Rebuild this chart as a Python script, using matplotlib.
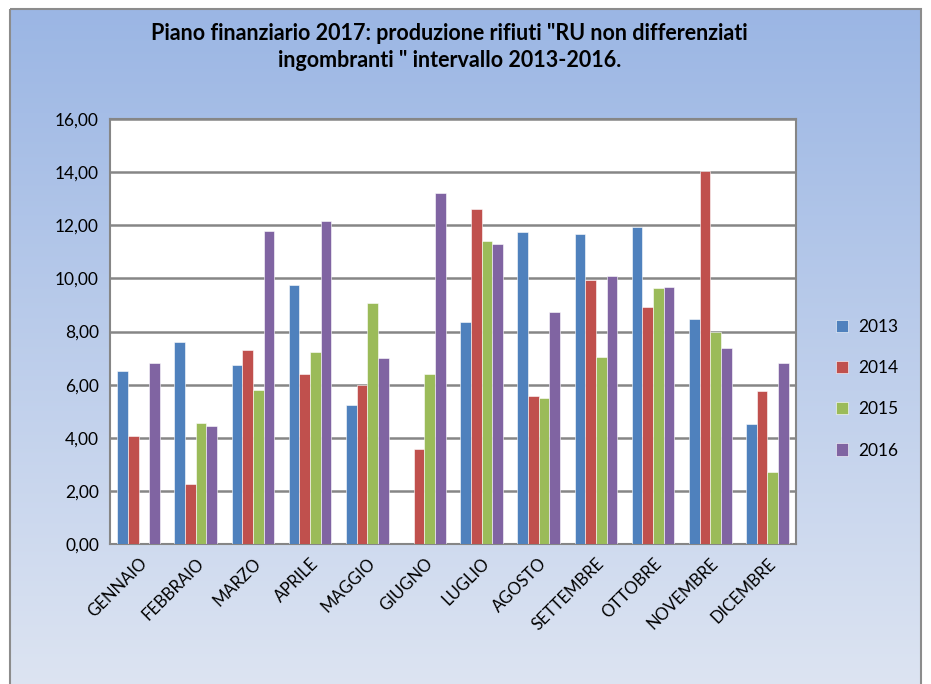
import numpy as np
import matplotlib.pyplot as plt
from matplotlib.patches import Rectangle

mesi = ['GENNAIO', 'FEBBRAIO', 'MARZO', 'APRILE', 'MAGGIO', 'GIUGNO',
        'LUGLIO', 'AGOSTO', 'SETTEMBRE', 'OTTOBRE', 'NOVEMBRE', 'DICEMBRE']
anni = ['2013', '2014', '2015', '2016']
v2013 = [6.52, 7.59, 6.74, 9.75, 5.22, 0.00, 8.36, 11.76, 11.66, 11.92, 8.46, 4.51]
v2014 = [4.07, 2.26, 7.30, 6.39, 5.97, 3.56, 12.63, 5.58, 9.94, 8.94, 14.04, 5.77]
v2015 = [0.00, 4.54, 5.80, 7.22, 9.06, 6.40, 11.42, 5.48, 7.03, 9.65, 7.97, 2.71]
v2016 = [6.80, 4.43, 11.77, 12.15, 6.99, 13.23, 11.30, 8.75, 10.08, 9.68, 7.39, 6.80]
colori = ['#4F81BD', '#C0504D', '#9BBB59', '#8064A2']

plt.rcParams['font.family'] = ['Lato', 'DejaVu Sans']

fig = plt.figure(figsize=(9.31, 6.84), dpi=100)

# sfondo sfumato del grafico
bg = fig.add_axes([0, 0, 1, 1], zorder=-10)
bg.set_xlim(0, 931)
bg.set_ylim(684, 0)
bg.axis('off')
top = np.array([155, 182, 228]) / 255
bot = np.array([222, 229, 242]) / 255
t = np.linspace(0, 1, 256)[:, None]
grad = (top * (1 - t) + bot * t)[:, None, :]
bg.imshow(grad, extent=[10, 921, 700, 9], aspect='auto')
bg.add_patch(Rectangle((10, 9), 911, 700, fill=False, edgecolor='#8C8C8C', lw=1.5))

ax = fig.add_axes([110 / 931, 1 - 544 / 684, 686 / 931, 425 / 684])
x = np.arange(len(mesi))
w = 0.187
serie = [v2013, v2014, v2015, v2016]
for i, (vals, anno, col) in enumerate(zip(serie, anni, colori)):
    ax.bar(x + (i - 1.5) * w, vals, width=w, color=col, label=anno,
           edgecolor='white', linewidth=0.4, zorder=3)

ax.set_xlim(-0.5, len(mesi) - 0.5)
ax.set_ylim(0, 16)
ax.set_yticks(np.arange(0, 17, 2))
ax.set_yticklabels([f'{v:.2f}'.replace('.', ',') for v in np.arange(0, 17, 2)], fontsize=12.5)
ax.set_xticks(x)
ax.set_xticklabels(mesi, rotation=45, ha='right', rotation_mode='anchor', fontsize=12)
ax.tick_params(axis='both', length=0, pad=8)
ax.grid(axis='y', color='#868686', lw=1.8, zorder=0)
for s in ax.spines.values():
    s.set_color('#868686')
    s.set_linewidth(1.5)

ax.legend(loc='center left', bbox_to_anchor=(1.035, 0.365), frameon=False,
          fontsize=12.5, handlelength=0.7, handleheight=0.7, labelspacing=1.45,
          handletextpad=0.6)

fig.text(0.483, 0.966, 'Piano finanziario 2017: produzione rifiuti "RU non differenziati\n'
         'ingombranti " intervallo 2013-2016.', ha='center', va='top',
         fontsize=15.5, fontweight='bold', linespacing=1.35)

fig.savefig('out.png', dpi=100)
